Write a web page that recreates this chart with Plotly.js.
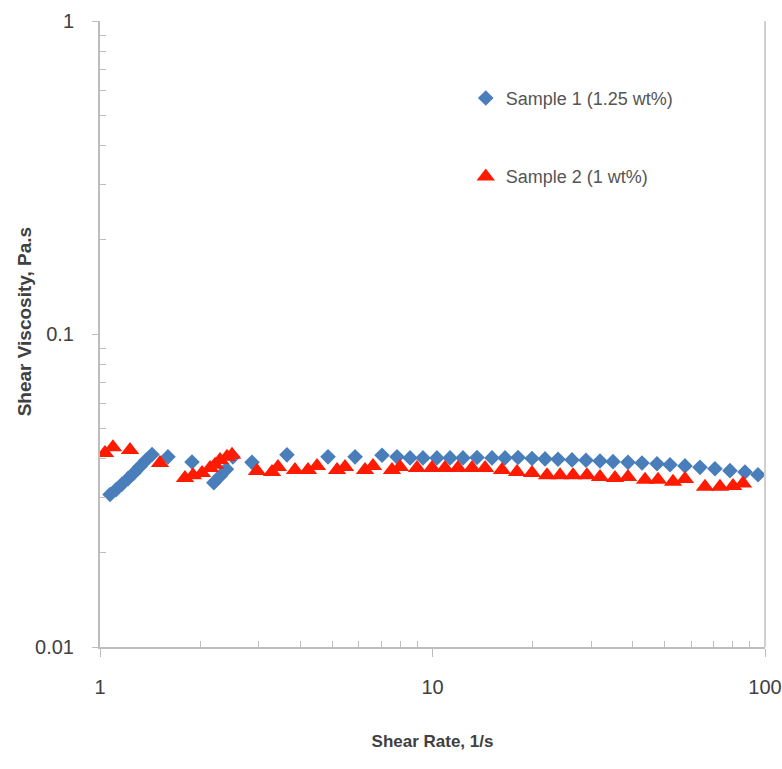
<!DOCTYPE html>
<html>
<head>
<meta charset="utf-8">
<script src="https://cdn.plot.ly/plotly-3.0.1.min.js"></script>
<style>html,body{margin:0;padding:0;background:#fff;}#chart{width:782px;height:769px;}</style>
</head>
<body>
<div id="chart"></div>
<script>
// Sample 1 (1.25 wt%) - shear rate (1/s) and shear viscosity (Pa.s)
const sample1Rate = [1.072, 1.117, 1.164, 1.214, 1.265, 1.319, 1.375, 1.434, 1.601, 1.891,
  2.20, 2.30, 2.40, 2.51, 2.865, 3.65, 4.85, 5.85,
  7.05, 7.82, 8.56, 9.36, 10.31, 11.29, 12.35, 13.61, 15.10, 16.52, 18.08, 19.92,
  21.80, 23.85, 26.28, 28.95, 31.90, 34.91, 38.72, 42.67, 47.34, 51.80, 57.45,
  63.75, 70.71, 78.46, 87.05, 95.27];
const sample1Visc = [0.0307, 0.0318, 0.0331, 0.0345, 0.0360, 0.0377, 0.0395, 0.0412, 0.0405, 0.0390,
  0.0335, 0.0352, 0.0370, 0.0405, 0.0389, 0.0411, 0.0405, 0.0405,
  0.0410, 0.0405, 0.0402, 0.0402, 0.0402, 0.0402, 0.0402, 0.0403, 0.0402, 0.0402, 0.0403, 0.0400,
  0.0399, 0.0398, 0.0396, 0.0395, 0.0393, 0.0391, 0.0389, 0.0387, 0.0385, 0.0382, 0.0379,
  0.0375, 0.0371, 0.0366, 0.0362, 0.0355];

// Sample 2 (1 wt%)
const sample2Rate = [1.035, 1.094, 1.231, 1.515, 1.801, 1.904, 2.027, 2.142, 2.218, 2.296, 2.410, 2.495,
  2.966, 3.291, 3.430, 3.859, 4.222, 4.494, 5.163, 5.457, 6.266, 6.624, 7.553, 7.985,
  8.982, 9.965, 10.90, 11.93, 13.15, 14.39, 16.18, 17.95, 19.92, 22.10, 24.19, 26.47,
  29.15, 31.90, 35.39, 38.72, 43.57, 47.68, 52.89, 57.45, 66.00, 73.20, 80.14, 85.87];
const sample2Visc = [0.0417, 0.0435, 0.0426, 0.0387, 0.0347, 0.0354, 0.0360, 0.0373, 0.0382, 0.0396, 0.0405, 0.0411,
  0.0365, 0.0362, 0.0376, 0.0368, 0.0368, 0.0379, 0.0368, 0.0376, 0.0368, 0.0379, 0.0368, 0.0376,
  0.0373, 0.0373, 0.0373, 0.0373, 0.0373, 0.0373, 0.0368, 0.0362, 0.0360, 0.0354, 0.0354, 0.0354,
  0.0354, 0.0349, 0.0347, 0.0349, 0.0342, 0.0342, 0.0337, 0.0344, 0.0325, 0.0325, 0.0327, 0.0333];

const seriesNames = ['Sample 1 (1.25 wt%)', 'Sample 2 (1 wt%)'];
const xTickVals = [1, 10, 100];
const xTickText = ['1', '10', '100'];
const yTickVals = [0.01, 0.1, 1];
const yTickText = ['0.01', '0.1', '1'];
const xTitle = 'Shear Rate, 1/s';
const yTitle = 'Shear Viscosity, Pa.s';

const FONT = '"Liberation Sans Narrow", "Arial Narrow", "Liberation Sans", Arial, sans-serif';
const TXT = '#404040';
const AX = '#bdbdbd';

const traces = [
  {x: sample1Rate, y: sample1Visc, name: seriesNames[0], type: 'scatter', mode: 'markers',
   legendgroup: 'a',
   marker: {symbol: 'diamond', size: 12, color: '#4a7ebb'}},
  {x: sample2Rate, y: sample2Visc, name: seriesNames[1], type: 'scatter', mode: 'markers',
   legendgroup: 'b',
   marker: {symbol: 'triangle-up', size: 16, color: '#ff1a00'}}
];

const minorX = [2,3,4,5,6,7,8,9,20,30,40,50,60,70,80,90];
const minorY = [0.02,0.03,0.04,0.05,0.06,0.07,0.08,0.09,0.2,0.3,0.4,0.5,0.6,0.7,0.8,0.9];

const layout = {
  width: 782, height: 769,
  margin: {l: 100, r: 17, t: 21, b: 122},
  paper_bgcolor: '#ffffff', plot_bgcolor: '#ffffff',
  font: {family: FONT, color: TXT},
  showlegend: true,
  legend: {x: 0.55, y: 0.906, xanchor: 'left', yanchor: 'top',
           bgcolor: 'rgba(0,0,0,0)', tracegroupgap: 52,
           font: {family: FONT, size: 18, color: '#555555'}, itemwidth: 30},
  xaxis: {
    type: 'log', range: [0, 2],
    tickmode: 'array', tickvals: xTickVals, ticktext: xTickText,
    ticks: 'outside', ticklen: 8, tickcolor: AX, tickwidth: 1,
    ticklabelstandoff: 13,
    minor: {tickmode: 'array', tickvals: minorX, ticks: 'inside', ticklen: 6, tickcolor: AX, showgrid: false},
    showline: true, linecolor: AX, linewidth: 2, mirror: false,
    showgrid: false, zeroline: false,
    tickfont: {family: FONT, size: 20, color: TXT},
    title: {text: xTitle, font: {family: FONT, size: 17, color: TXT, weight: 'bold'}, standoff: 38}
  },
  yaxis: {
    type: 'log', range: [-2, 0],
    tickmode: 'array', tickvals: yTickVals, ticktext: yTickText,
    ticks: 'outside', ticklen: 6, tickcolor: AX, tickwidth: 1,
    ticklabelstandoff: 14,
    minor: {tickmode: 'array', tickvals: minorY, ticks: 'inside', ticklen: 6, tickcolor: AX, showgrid: false},
    showline: true, linecolor: AX, linewidth: 2,
    showgrid: false, zeroline: false,
    tickfont: {family: FONT, size: 20, color: TXT}
  },
  annotations: [
    {text: yTitle, xref: 'paper', yref: 'paper', x: -0.113, y: 0.52,
     xanchor: 'center', yanchor: 'middle', textangle: -90, showarrow: false,
     font: {family: FONT, size: 19, color: TXT, weight: 'bold'}}
  ],
  shapes: [
    {type: 'line', xref: 'paper', yref: 'paper', x0: 1, x1: 1, y0: 0, y1: 1,
     line: {color: '#d0d0d0', width: 2}}
  ]
};

Plotly.newPlot('chart', traces, layout, {displayModeBar: false, staticPlot: true});
</script>
</body>
</html>
